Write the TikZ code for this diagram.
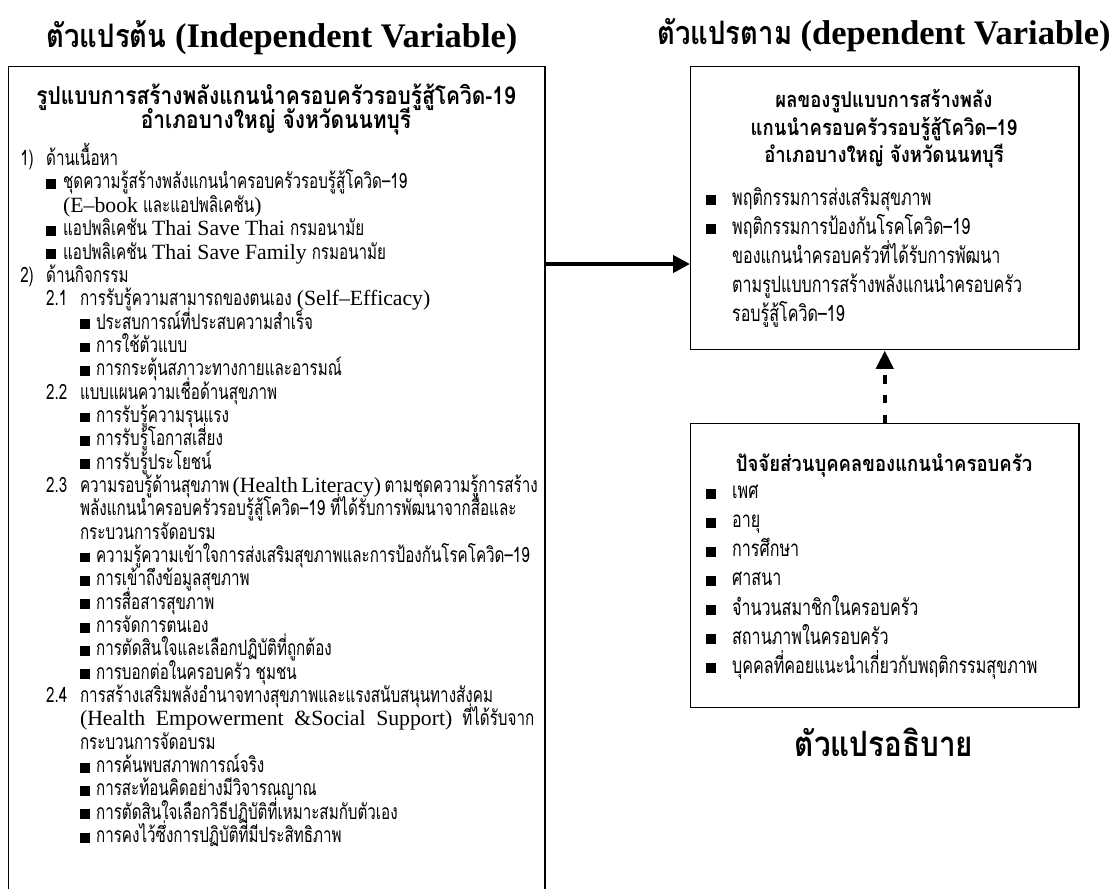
\documentclass[tikz,border=0pt]{standalone}
\usepackage{fontspec}
\setmainfont{Liberation Serif}
\newfontfamily\thai[Script=Thai,FakeStretch=0.72]{Loma}
\newfontfamily\thaihead[Script=Thai,FakeStretch=0.85]{Loma}
\newfontfamily\enfont[Scale=1.03,Ligatures=TeX]{Liberation Serif}
\usetikzlibrary{arrows.meta}
\newcommand{\bsq}{\rule{7pt}{7pt}}
\newcommand{\en}[1]{{\enfont #1}}
\newcommand{\fixlines}{\lineskiplimit=-20pt\relax}
\newcommand{\itemA}[2]{\makebox[18.4pt][l]{#1}#2}
\newcommand{\itemB}[1]{\hspace*{18.4pt}\makebox[12.1pt][l]{\bsq}#1}
\newcommand{\itemC}[2]{\hspace*{18.4pt}\makebox[24.1pt][l]{#1}#2}
\newcommand{\itemD}[1]{\hspace*{42.5pt}\makebox[11.4pt][l]{\bsq}#1}
\newcommand{\itemR}[1]{\makebox[18.4pt][l]{\bsq}#1}

\begin{document}
\begin{tikzpicture}[x=0.025cm,y=-0.025cm,
  frame/.style={draw,line width=1pt,inner sep=0pt},
  headtxt/.style={font=\fontsize{24.5}{28}\selectfont\bfseries},
  boxtitle/.style={font={\thaihead\fontsize{17.5}{17}\selectfont\bfseries\fixlines},align=center,inner sep=0pt},
  deptitle/.style={font={\thaihead\fontsize{15.5}{19.5}\selectfont\bfseries\fixlines},align=center,inner sep=0pt},
  listtxt/.style={font={\thai\fontsize{15}{16.6}\selectfont\fixlines},align=left,inner sep=0pt},
  rlisttxt/.style={font={\thai\fontsize{15.9}{20.7}\selectfont\fixlines},align=left,inner sep=0pt},
  mainarrow/.style={line width=3.5pt,-{Triangle[length=12pt,width=12pt]}},
  dasharrow/.style={line width=3pt,dash pattern=on 6pt off 8pt,-{Triangle[length=13pt,width=12pt]}}]
\useasboundingbox (0,0) rectangle (1113,889);

\node[headtxt] (indephead) at (282,38) {{\thaihead\fontsize{23}{28}\selectfont ตัวแปรต้น} (Independent Variable)};
\node[headtxt] (dephead) at (884,35) {{\thaihead\fontsize{23}{28}\selectfont ตัวแปรตาม} (dependent Variable)};

\node[frame,anchor=north west,minimum width=13.4cm,minimum height=20.9cm] (indep) at (8,66) {};
\node[frame,anchor=north west,minimum width=9.7cm,minimum height=7.075cm] (dep) at (690,66) {};
\node[frame,anchor=north west,minimum width=9.7cm,minimum height=7.1cm] (factors) at (690,423) {};

\node[boxtitle] (indeptitle) at (276,109) {รูปแบบการสร้างพลังแกนนำครอบครัวรอบรู้สู้โควิด-19\\อำเภอบางใหญ่ จังหวัดนนทบุรี};
\node[listtxt,anchor=north west] (indeplist) at (20,143) {%
\itemA{1)}{ด้านเนื้อหา}\\
\itemB{ชุดความรู้สร้างพลังแกนนำครอบครัวรอบรู้สู้โควิด–19}\\
\hspace*{30.5pt}\en{(E--book} และแอปพลิเคชัน\en{)}\\
\itemB{แอปพลิเคชัน \en{Thai Save Thai} กรมอนามัย}\\
\itemB{แอปพลิเคชัน \en{Thai Save Family} กรมอนามัย}\\
\itemA{2)}{ด้านกิจกรรม}\\
\itemC{2.1}{การรับรู้ความสามารถของตนเอง \en{(Self--Efficacy)}}\\
\itemD{ประสบการณ์ที่ประสบความสำเร็จ}\\
\itemD{การใช้ตัวแบบ}\\
\itemD{การกระตุ้นสภาวะทางกายและอารมณ์}\\
\itemC{2.2}{แบบแผนความเชื่อด้านสุขภาพ}\\
\itemD{การรับรู้ความรุนแรง}\\
\itemD{การรับรู้โอกาสเสี่ยง}\\
\itemD{การรับรู้ประโยชน์}\\
\itemC{2.3}{\makebox[323pt][s]{ความรอบรู้ด้านสุขภาพ \en{(Health Literacy)} ตามชุดความรู้การสร้าง}}\\
\hspace*{42.5pt}พลังแกนนำครอบครัวรอบรู้สู้โควิด–19 ที่ได้รับการพัฒนาจากสื่อและ\\
\hspace*{42.5pt}กระบวนการจัดอบรม\\
\itemD{ความรู้ความเข้าใจการส่งเสริมสุขภาพและการป้องกันโรคโควิด–19}\\
\itemD{การเข้าถึงข้อมูลสุขภาพ}\\
\itemD{การสื่อสารสุขภาพ}\\
\itemD{การจัดการตนเอง}\\
\itemD{การตัดสินใจและเลือกปฏิบัติที่ถูกต้อง}\\
\itemD{การบอกต่อในครอบครัว ชุมชน}\\
\itemC{2.4}{การสร้างเสริมพลังอำนาจทางสุขภาพและแรงสนับสนุนทางสังคม}\\
\hspace*{42.5pt}\makebox[323pt][s]{\en{(Health Empowerment \&Social Support)} ที่ได้รับจาก}\\
\hspace*{42.5pt}กระบวนการจัดอบรม\\
\itemD{การค้นพบสภาพการณ์จริง}\\
\itemD{การสะท้อนคิดอย่างมีวิจารณญาณ}\\
\itemD{การตัดสินใจเลือกวิธีปฏิบัติที่เหมาะสมกับตัวเอง}\\
\itemD{การคงไว้ซึ่งการปฏิบัติที่มีประสิทธิภาพ}};

\node[deptitle] (deptitletxt) at (884,129) {ผลของรูปแบบการสร้างพลัง\\แกนนำครอบครัวรอบรู้สู้โควิด–19\\อำเภอบางใหญ่ จังหวัดนนทบุรี};
\node[rlisttxt,anchor=north west] (deplist) at (706,187) {%
\itemR{พฤติกรรมการส่งเสริมสุขภาพ}\\
\itemR{พฤติกรรมการป้องกันโรคโควิด–19}\\
\hspace*{18.4pt}ของแกนนำครอบครัวที่ได้รับการพัฒนา\\
\hspace*{18.4pt}ตามรูปแบบการสร้างพลังแกนนำครอบครัว\\
\hspace*{18.4pt}รอบรู้สู้โควิด–19};

\node[deptitle] (factorstitle) at (884,465) {ปัจจัยส่วนบุคคลของแกนนำครอบครัว};
\node[rlisttxt,anchor=north west] (factorslist) at (706,485) {%
\itemR{เพศ}\\
\itemR{อายุ}\\
\itemR{การศึกษา}\\
\itemR{ศาสนา}\\
\itemR{จำนวนสมาชิกในครอบครัว}\\
\itemR{สถานภาพในครอบครัว}\\
\itemR{บุคคลที่คอยแนะนำเกี่ยวกับพฤติกรรมสุขภาพ}};

\node[font=\thaihead\fontsize{24.8}{28}\selectfont\bfseries] (explhead) at (884,742) {ตัวแปรอธิบาย};

\coordinate (arrowrow) at (600,264);
\draw[mainarrow] (indep.east |- arrowrow) -- (dep.west |- arrowrow);
\draw[dasharrow] (factors.north) -- (dep.south);
\end{tikzpicture}
\end{document}
